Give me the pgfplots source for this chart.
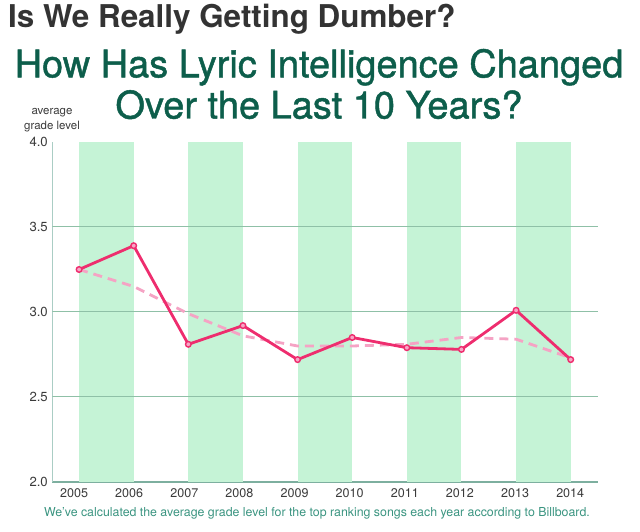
\documentclass[border=0pt]{standalone}
\usepackage{pgfplots}
\pgfplotsset{compat=1.18}
\usepackage{fontspec}
\setmainfont{TeX Gyre Heros}
\newfontfamily\medfont{TeX Gyre Heros}[BoldFont=TeX Gyre Heros, BoldFeatures={FakeBold=1.2}]
\definecolor{band}{HTML}{C5F3D6}
\definecolor{lineP}{HTML}{EE2D6E}
\definecolor{markP}{HTML}{F7A6C5}
\definecolor{dashP}{HTML}{F5A3C4}
\definecolor{gridc}{HTML}{8FC0A7}
\definecolor{yaxisc}{HTML}{AACDC4}
\definecolor{xaxisc}{HTML}{7DAF9F}
\definecolor{tgray}{HTML}{333333}
\definecolor{tgreen}{HTML}{0D5E4B}
\definecolor{capc}{HTML}{3A9480}
\definecolor{tickc}{HTML}{3A3A3A}
\begin{document}
\begin{tikzpicture}
\path[use as bounding box] (0,0) rectangle (640bp,532bp);
\node[anchor=base west, inner sep=0, text=tgray, font=\bfseries\fontsize{31.5}{34}\selectfont] at (8bp,504.3bp) {Is We Really Getting Dumber?};
\node[anchor=base, inner sep=0, text=tgreen, font=\medfont\bfseries\fontsize{38.1}{42}\selectfont] at (319bp,454.7bp) {How Has Lyric Intelligence Changed};
\node[anchor=base, inner sep=0, text=tgreen, font=\medfont\bfseries\fontsize{38.1}{42}\selectfont] at (319bp,413.5bp) {Over the Last 10 Years?};
\node[anchor=base, inner sep=0, text=tickc, font=\fontsize{11.5}{13}\selectfont] at (52bp,417bp) {average};
\node[anchor=base, inner sep=0, text=tickc, font=\fontsize{11.5}{13}\selectfont] at (52bp,402bp) {grade level};
\node[anchor=base, inner sep=0, text=capc, font=\fontsize{12.4}{14}\selectfont] at (317bp,16bp) {We've calculated the average grade level for the top ranking songs each year according to Billboard.};
\begin{axis}[
  at={(52.3bp,50bp)}, anchor=south west,
  scale only axis, width=546bp, height=340bp,
  xmin=2004.51, xmax=2014.505, ymin=2, ymax=4,
  axis lines*=left,
  x axis line style={draw=xaxisc, line width=1.3bp},
  y axis line style={draw=yaxisc, line width=1.3bp},
  major tick length=0pt,
  xtick={2004.908,2005.917,2006.927,2007.936,2008.945,2009.954,2010.963,2011.972,2012.982,2013.991},
  xticklabels={2005,2006,2007,2008,2009,2010,2011,2012,2013,2014},
  ytick={2,2.5,3,3.5,4},
  /pgf/number format/assume math mode=true,
  yticklabel={\pgfmathprintnumber[fixed,fixed zerofill,precision=1]{\tick}},
  xticklabel style={font=\fontsize{12.6}{14}\selectfont, text=tickc, yshift=-3bp},
  yticklabel style={font=\fontsize{13.2}{15}\selectfont, text=tickc, xshift=-1bp},
  clip=true,
]
\addplot[fill=band, draw=none] coordinates {(2005,2) (2005,4) (2006,4) (2006,2)} -- cycle;
\addplot[fill=band, draw=none] coordinates {(2007,2) (2007,4) (2008,4) (2008,2)} -- cycle;
\addplot[fill=band, draw=none] coordinates {(2009,2) (2009,4) (2010,4) (2010,2)} -- cycle;
\addplot[fill=band, draw=none] coordinates {(2011,2) (2011,4) (2012,4) (2012,2)} -- cycle;
\addplot[fill=band, draw=none] coordinates {(2013,2) (2013,4) (2014,4) (2014,2)} -- cycle;
\addplot[gridc, line width=1bp] coordinates {(2004.51,2.5) (2014.505,2.5)};
\addplot[gridc, line width=1bp] coordinates {(2004.51,3.0) (2014.505,3.0)};
\addplot[gridc, line width=1bp] coordinates {(2004.51,3.5) (2014.505,3.5)};
\addplot[dashP, line width=2.8bp, dash pattern=on 9bp off 6bp] coordinates {
(2005,3.25) (2006,3.15) (2007,2.99) (2008,2.86) (2009,2.80) (2010,2.80) (2011,2.81) (2012,2.85) (2013,2.84) (2014,2.73)};
\addplot[lineP, line width=2.8bp, mark=*, mark size=2.8bp, mark options={fill=markP, draw=lineP, line width=1.4bp}] coordinates {
(2005,3.25) (2006,3.39) (2007,2.81) (2008,2.92) (2009,2.72) (2010,2.85) (2011,2.79) (2012,2.78) (2013,3.01) (2014,2.72)};
\end{axis}
\end{tikzpicture}
\end{document}
